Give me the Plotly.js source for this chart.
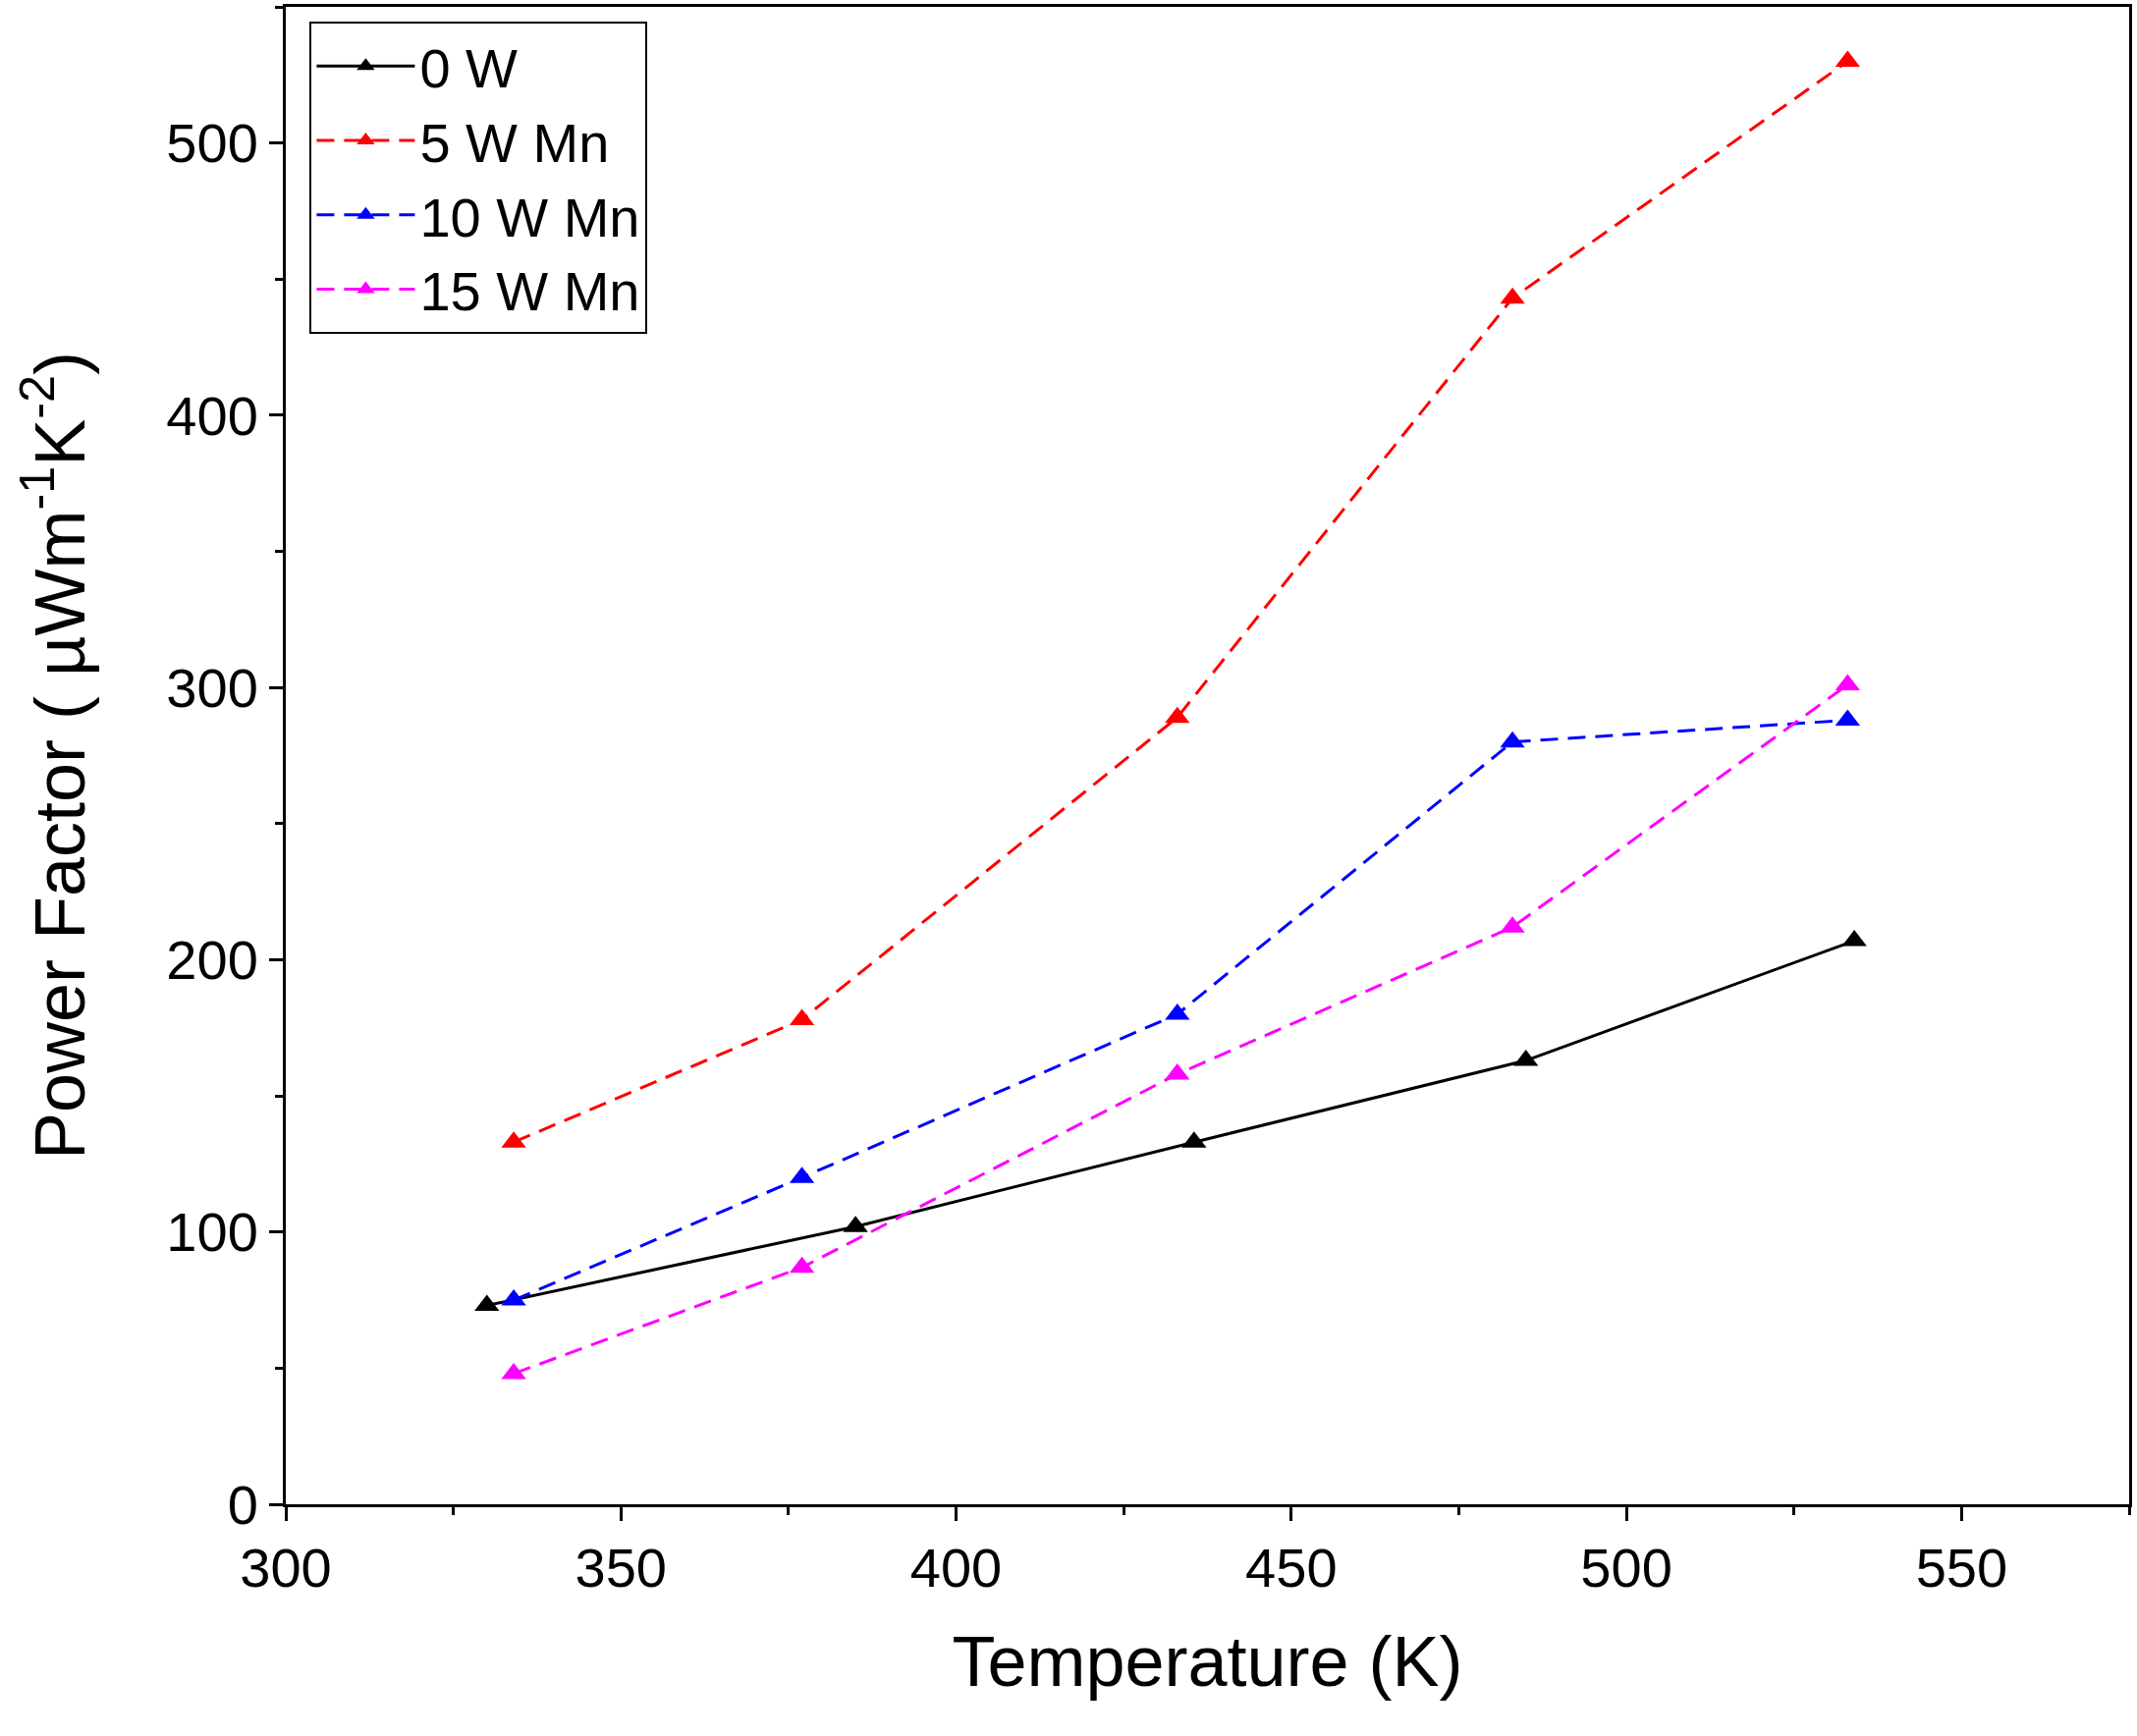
<!DOCTYPE html>
<html><head><meta charset="utf-8">
<script src="https://cdn.plot.ly/plotly-3.0.1.min.js"></script>
<style>body{margin:0;background:#fff}</style>
</head><body>
<div id="graphDiv" style="width:2176px;height:1768px"></div>
<script>
// power factor vs temperature
const names = ['0 W', '5 W Mn', '10 W Mn', '15 W Mn']
const colors = ['black', 'red', 'blue', 'magenta']
const dashes = ['solid', '18px,10px', '18px,10px', '18px,10px']
const tempBlack = [330, 385, 435.5, 485, 534]
const tempMn = [334, 377, 433, 483, 533]
const pf0 = [73, 102, 133, 163, 207]
const pf5 = [133, 178, 289, 443, 530]
const pf10 = [75, 120, 180, 280, 288]
const pf15 = [48, 87, 158, 212, 301]

let xs = [tempBlack, tempMn, tempMn, tempMn]
let ys = [pf0, pf5, pf10, pf15]
let traces = names.map((n, i) => ({
    x: xs[i], y: ys[i], name: n, type: 'scatter', mode: 'lines+markers',
    line: {color: colors[i], width: 3, dash: dashes[i]},
    marker: {symbol: 'triangle-up', size: 22, color: colors[i]}
}))

const fnt = {family: 'Liberation Sans, Arial, sans-serif', color: 'black'}
let axis = {
    showgrid: false, zeroline: false, showline: true, mirror: true,
    linecolor: 'black', linewidth: 3, ticks: 'outside', ticklen: 14, tickwidth: 3,
    tickcolor: 'black', tickfont: Object.assign({size: 56}, fnt)
}
const layout = {
    width: 2176, height: 1768,
    margin: {l: 291, r: 8, t: 7, b: 236},
    paper_bgcolor: 'white', plot_bgcolor: 'white',
    showlegend: true,
    legend: {x: 0.013, y: 0.99, xanchor: 'left', yanchor: 'top',
        bordercolor: 'black', borderwidth: 2, font: Object.assign({size: 56}, fnt),
        itemwidth: 100, tracegroupgap: 0},
    xaxis: Object.assign({}, axis, {range: [300, 575], dtick: 50,
        minor: {dtick: 25, ticks: 'outside', ticklen: 8, tickwidth: 3, tickcolor: 'black'},
        title: {text: 'Temperature (K)', font: Object.assign({size: 72}, fnt), standoff: 40}}),
    yaxis: Object.assign({}, axis, {range: [0, 550], dtick: 100,
        minor: {dtick: 50, ticks: 'outside', ticklen: 8, tickwidth: 3, tickcolor: 'black'},
        title: {text: 'Power Factor ( µWm<sup>-1</sup>K<sup>-2</sup>)', font: Object.assign({size: 72}, fnt), standoff: 60}})
}
Plotly.newPlot('graphDiv', traces, layout, {displayModeBar: false})
</script>
</body></html>
